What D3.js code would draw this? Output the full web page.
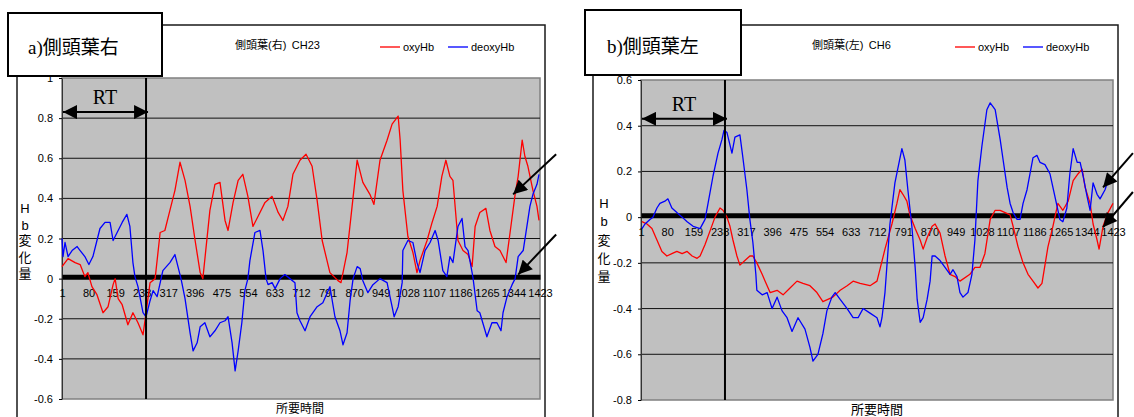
<!DOCTYPE html>
<html>
<head>
<meta charset="utf-8">
<script src="https://cdn.jsdelivr.net/npm/d3@7"></script>
<style>
body { margin: 0; background: #fff; }
svg text { font-family: "Liberation Sans", Arial, "Noto Sans CJK JP", sans-serif; fill: #000; }
</style>
</head>
<body>
<svg id="canvas" width="1134" height="417"></svg>
<script>
// category labels on the x axis (sample number)
let xTicks = [1, 80, 159, 238, 317, 396, 475, 554, 633, 712, 791, 870, 949, 1028, 1107, 1186, 1265, 1344, 1423];
let yTicksLeft = [-0.6, -0.4, -0.2, 0, 0.2, 0.4, 0.6, 0.8, 1];
let yTicksRight = [-0.8, -0.6, -0.4, -0.2, 0, 0.2, 0.4, 0.6];

// [sample, value]
let leftOxy = [[1,0.06],[19,0.10],[40,0.08],[55,0.07],[69,0.01],[78,0.03],[90,-0.04],[105,-0.08],[123,-0.17],[138,-0.14],[153,-0.03],[159,0.00],[168,-0.10],[180,-0.13],[197,-0.23],[212,-0.17],[227,-0.22],[242,-0.28],[251,-0.17],[263,-0.02],[278,0.00],[293,0.23],[307,0.24],[322,0.34],[337,0.44],[352,0.58],[367,0.49],[382,0.36],[397,0.19],[412,0.03],[420,0.00],[441,0.34],[456,0.47],[471,0.48],[486,0.29],[495,0.24],[510,0.38],[525,0.49],[539,0.52],[554,0.41],[569,0.26],[584,0.31],[605,0.38],[626,0.41],[644,0.33],[658,0.29],[673,0.36],[688,0.52],[709,0.59],[727,0.62],[745,0.56],[760,0.39],[775,0.19],[798,0.03],[822,-0.01],[831,-0.02],[849,0.13],[864,0.36],[879,0.59],[896,0.48],[917,0.42],[929,0.37],[947,0.59],[968,0.69],[983,0.77],[1001,0.81],[1007,0.69],[1015,0.44],[1030,0.21],[1045,0.13],[1057,0.03],[1066,0.09],[1087,0.19],[1102,0.28],[1117,0.36],[1131,0.51],[1143,0.59],[1155,0.51],[1164,0.49],[1179,0.19],[1194,0.14],[1209,0.12],[1221,0.06],[1230,0.26],[1244,0.33],[1262,0.35],[1274,0.24],[1289,0.16],[1304,0.14],[1322,0.08],[1334,0.23],[1349,0.42],[1358,0.51],[1370,0.69],[1378,0.61],[1387,0.56],[1402,0.44],[1414,0.36],[1420,0.29]];
let leftDeoxy = [[1,0.20],[4,0.11],[10,0.18],[19,0.11],[31,0.14],[46,0.16],[55,0.14],[69,0.11],[81,0.07],[93,0.11],[105,0.19],[114,0.25],[129,0.28],[144,0.28],[153,0.19],[165,0.23],[180,0.28],[194,0.32],[203,0.26],[212,0.08],[218,0.01],[227,-0.04],[242,-0.17],[251,-0.19],[263,-0.11],[272,-0.06],[284,-0.09],[301,0.04],[322,0.08],[337,0.12],[346,0.06],[355,0.00],[367,-0.10],[382,-0.27],[391,-0.36],[403,-0.32],[412,-0.24],[426,-0.22],[441,-0.29],[456,-0.26],[471,-0.22],[486,-0.21],[495,-0.19],[507,-0.32],[516,-0.46],[525,-0.36],[536,-0.22],[545,-0.06],[554,0.00],[560,0.09],[575,0.23],[590,0.24],[599,0.14],[608,0.00],[614,-0.03],[626,-0.02],[635,-0.05],[650,0.00],[664,0.02],[679,0.00],[694,-0.02],[700,-0.17],[709,-0.21],[724,-0.26],[739,-0.19],[760,-0.14],[777,-0.12],[798,-0.04],[813,-0.19],[828,-0.26],[837,-0.33],[849,-0.27],[858,-0.11],[867,0.00],[879,0.06],[888,0.05],[896,-0.01],[911,-0.07],[926,-0.03],[947,0.00],[968,-0.02],[983,-0.14],[989,-0.19],[1001,-0.14],[1013,-0.02],[1015,0.14],[1030,0.19],[1045,0.18],[1057,0.08],[1066,0.03],[1081,0.14],[1096,0.18],[1111,0.24],[1120,0.19],[1134,0.04],[1146,0.01],[1155,0.11],[1164,0.08],[1179,0.26],[1191,0.30],[1200,0.16],[1209,0.14],[1221,0.03],[1224,0.00],[1236,-0.16],[1244,-0.17],[1265,-0.29],[1280,-0.22],[1295,-0.22],[1307,-0.26],[1313,-0.17],[1325,-0.09],[1340,-0.03],[1349,0.00],[1358,0.11],[1373,0.14],[1384,0.26],[1393,0.36],[1402,0.42],[1414,0.47],[1420,0.52]];
let rightOxy = [[4,-0.02],[19,-0.03],[34,-0.05],[49,-0.10],[64,-0.15],[79,-0.17],[94,-0.16],[109,-0.15],[125,-0.16],[140,-0.15],[155,-0.17],[170,-0.18],[179,-0.17],[194,-0.12],[209,-0.06],[224,0.00],[239,0.04],[248,0.03],[260,0.00],[269,-0.04],[278,-0.10],[290,-0.17],[299,-0.21],[314,-0.19],[329,-0.17],[338,-0.17],[350,-0.20],[366,-0.25],[375,-0.28],[390,-0.33],[411,-0.32],[429,-0.34],[450,-0.31],[471,-0.28],[489,-0.29],[510,-0.30],[531,-0.33],[549,-0.37],[564,-0.36],[579,-0.35],[601,-0.32],[622,-0.30],[640,-0.28],[661,-0.29],[691,-0.30],[712,-0.28],[736,-0.14],[757,-0.03],[772,0.06],[781,0.12],[790,0.10],[802,0.07],[811,0.01],[827,-0.05],[842,-0.10],[851,-0.14],[863,-0.09],[878,-0.04],[887,-0.03],[902,-0.07],[917,-0.17],[932,-0.25],[947,-0.26],[962,-0.28],[992,-0.25],[1007,-0.22],[1022,-0.22],[1037,-0.16],[1053,-0.01],[1068,0.03],[1083,0.03],[1098,0.02],[1113,0.01],[1122,-0.04],[1137,-0.13],[1152,-0.20],[1167,-0.25],[1182,-0.28],[1197,-0.31],[1209,-0.29],[1227,-0.13],[1242,-0.04],[1257,0.06],[1272,0.03],[1288,0.07],[1303,0.16],[1318,0.19],[1330,0.21],[1339,0.13],[1354,0.06],[1363,-0.03],[1375,-0.10],[1381,-0.14],[1393,-0.04],[1408,0.02],[1423,0.06]];
let rightDeoxy = [[4,-0.05],[13,-0.03],[28,-0.01],[37,0.00],[49,0.04],[58,0.06],[73,0.07],[82,0.08],[94,0.04],[109,0.02],[125,0.00],[140,-0.02],[158,-0.04],[179,-0.05],[194,-0.01],[203,0.06],[218,0.18],[233,0.28],[245,0.34],[251,0.38],[260,0.37],[275,0.28],[284,0.35],[299,0.36],[308,0.26],[320,0.12],[329,-0.01],[338,-0.11],[347,-0.25],[350,-0.32],[366,-0.34],[381,-0.33],[396,-0.40],[411,-0.35],[426,-0.41],[441,-0.44],[456,-0.50],[474,-0.44],[495,-0.49],[510,-0.57],[519,-0.63],[534,-0.60],[549,-0.51],[561,-0.41],[576,-0.35],[586,-0.33],[601,-0.36],[622,-0.40],[640,-0.44],[655,-0.44],[670,-0.40],[691,-0.42],[712,-0.44],[721,-0.48],[727,-0.44],[736,-0.33],[751,-0.03],[766,0.15],[787,0.30],[796,0.25],[805,0.12],[817,-0.04],[827,-0.22],[833,-0.36],[842,-0.46],[851,-0.44],[863,-0.36],[872,-0.28],[878,-0.17],[887,-0.17],[902,-0.19],[917,-0.22],[932,-0.25],[941,-0.23],[953,-0.26],[962,-0.33],[971,-0.35],[986,-0.33],[998,-0.25],[1007,-0.10],[1016,0.16],[1028,0.31],[1043,0.47],[1053,0.50],[1068,0.47],[1083,0.34],[1092,0.25],[1104,0.13],[1113,0.06],[1122,0.02],[1134,-0.01],[1143,-0.01],[1152,0.06],[1164,0.12],[1173,0.19],[1182,0.26],[1194,0.27],[1203,0.24],[1218,0.23],[1233,0.19],[1242,0.13],[1254,0.05],[1263,-0.01],[1272,-0.02],[1284,0.04],[1293,0.19],[1303,0.30],[1315,0.24],[1324,0.24],[1333,0.18],[1345,0.09],[1354,0.03],[1363,0.15],[1375,0.10],[1384,0.08],[1399,0.12],[1408,0.16]];

// RT marker position (sample) and the height of its double arrow (value)
let rtSample = [251, 254];
let rtArrowValue = [0.83, 0.43];
// annotation arrows: [fromSample, fromValue, toSample, toValue]
let leftArrows = [[1471, 0.62, 1343, 0.42], [1471, 0.22, 1358, 0.02]];
let rightArrows = [[1483, 0.28, 1393, 0.13], [1483, 0.11, 1393, -0.044]];

let panelLabels = ['a)側頭葉右', 'b)側頭葉左'];
let panelTitles = ['側頭葉(右)\u2002CH23', '側頭葉(左)\u2002CH6'];
let seriesNames = ['oxyHb', 'deoxyHb'];
let seriesColors = ['#ff0000', '#0000ff'];
let yTitleChars = ['H', 'b', '変', '化', '量'];

let panels = [
  { frame: [17, 25, 528, 420], plot: [62, 78, 478, 321], box: [8, 13, 154, 63], labelPos: [28, 54],
    titlePos: [235, 49], legendX: 380, yTitleX: 25, yTitleY: [208, 225, 240, 257, 273],
    xTitle: [300, 413, 12], yTicks: yTicksLeft, oxy: leftOxy, deoxy: leftDeoxy, arrows: leftArrows },
  { frame: [593, 25, 525, 420], plot: [641, 80, 472, 320], box: [585, 10, 156, 65], labelPos: [607, 53],
    titlePos: [812, 49], legendX: 955, yTitleX: 604, yTitleY: [203, 221, 240, 258, 276],
    xTitle: [877, 414, 13], yTicks: yTicksRight, oxy: rightOxy, deoxy: rightDeoxy, arrows: rightArrows }
];

let svg = d3.select('#canvas');
let defs = svg.append('defs');
defs.append('marker').attr('id', 'head').attr('viewBox', '0 0 10 10')
  .attr('refX', 10).attr('refY', 5).attr('markerWidth', 7.5).attr('markerHeight', 7)
  .attr('markerUnits', 'strokeWidth').attr('orient', 'auto-start-reverse')
  .append('path').attr('d', 'M0,0L10,5L0,10Z').attr('fill', '#000');

panels.forEach((p, k) => {
  let [px, py, pw, ph] = p.plot;
  let x = d3.scaleLinear().domain([1, 1423]).range([px, px + pw]);
  let y = d3.scaleLinear().domain(d3.extent(p.yTicks)).range([py + ph, py]);

  // outer chart frame
  svg.append('rect').attr('x', p.frame[0]).attr('y', p.frame[1])
    .attr('width', p.frame[2]).attr('height', p.frame[3])
    .attr('fill', '#fff').attr('stroke', '#1a1a1a').attr('stroke-width', 1.5);

  // plot area
  svg.append('rect').attr('x', px).attr('y', py).attr('width', pw).attr('height', ph)
    .attr('fill', '#c0c0c0').attr('stroke', '#808080').attr('stroke-width', 1.5);

  // gridlines
  svg.append('g').selectAll('line')
    .data(p.yTicks.filter(t => t !== 0 && t !== y.domain()[0] && t !== y.domain()[1]))
    .enter().append('line')
    .attr('x1', px).attr('x2', px + pw)
    .attr('y1', d => y(d)).attr('y2', d => y(d))
    .attr('stroke', '#111').attr('stroke-width', 1);

  // y axis
  let yAxis = svg.append('g').attr('transform', 'translate(' + px + ',0)')
    .call(d3.axisLeft(y).tickValues(p.yTicks).tickSizeInner(3).tickSizeOuter(0)
      .tickPadding(6).tickFormat(d => String(+d.toFixed(1))));
  yAxis.select('.domain').attr('stroke', '#333');
  yAxis.selectAll('text').style('font-size', '11px').attr('fill', '#000');

  // category axis crossing at zero
  let xAxis = svg.append('g').attr('transform', 'translate(0,' + (y(0) - 2) + ')')
    .call(d3.axisBottom(x).tickValues(xTicks).tickSize(0).tickPadding(13).tickFormat(d3.format('d')));
  xAxis.select('.domain').attr('stroke', '#000').attr('stroke-width', 5);
  xAxis.selectAll('text').style('font-size', '11px').attr('fill', '#000');

  // series
  let line = d3.line().x(d => x(d[0])).y(d => y(d[1]));
  [p.oxy, p.deoxy].forEach((s, i) => {
    svg.append('path').datum(s).attr('d', line)
      .attr('fill', 'none').attr('stroke', seriesColors[i]).attr('stroke-width', 1.3)
      .attr('stroke-linejoin', 'round');
  });

  // RT line and double arrow
  svg.append('line').attr('x1', x(rtSample[k])).attr('x2', x(rtSample[k]))
    .attr('y1', py).attr('y2', py + ph).attr('stroke', '#000').attr('stroke-width', 2);
  svg.append('line').attr('x1', px + 1).attr('x2', x(rtSample[k]) + 2)
    .attr('y1', y(rtArrowValue[k])).attr('y2', y(rtArrowValue[k]))
    .attr('stroke', '#000').attr('stroke-width', 2)
    .attr('marker-start', 'url(#head)').attr('marker-end', 'url(#head)');
  svg.append('text').attr('x', (px + x(rtSample[k])) / 2 + 1).attr('y', y(rtArrowValue[k]) - 8)
    .attr('text-anchor', 'middle').style('font-family', '"Liberation Serif", "Times New Roman", serif')
    .style('font-size', '20px').text('RT');

  // annotation arrows
  p.arrows.forEach(a => {
    svg.append('line').attr('x1', x(a[0])).attr('y1', y(a[1]))
      .attr('x2', x(a[2])).attr('y2', y(a[3]))
      .attr('stroke', '#000').attr('stroke-width', 2).attr('marker-end', 'url(#head)');
  });

  // chart title and legend
  svg.append('text').attr('x', p.titlePos[0]).attr('y', p.titlePos[1])
    .style('font-size', '11px').text(panelTitles[k]);
  let legend = svg.append('g').selectAll('g').data(seriesNames).enter().append('g')
    .attr('transform', (d, i) => 'translate(' + (p.legendX + i * 68) + ',47)');
  legend.append('line').attr('x1', 0).attr('x2', 20).attr('y1', 0).attr('y2', 0)
    .attr('stroke', (d, i) => seriesColors[i]).attr('stroke-width', 2).attr('opacity', 0.65);
  legend.append('text').attr('x', 23).attr('y', 4).style('font-size', '11px').text(d => d);

  // axis titles
  svg.append('g').selectAll('text').data(yTitleChars).enter().append('text')
    .attr('x', p.yTitleX).attr('y', (d, i) => p.yTitleY[i] + 5)
    .attr('text-anchor', 'middle').style('font-size', '13px').text(d => d);
  svg.append('text').attr('x', p.xTitle[0]).attr('y', p.xTitle[1])
    .attr('text-anchor', 'middle').style('font-size', p.xTitle[2] + 'px').text('所要時間');

  // panel label box
  svg.append('rect').attr('x', p.box[0]).attr('y', p.box[1])
    .attr('width', p.box[2]).attr('height', p.box[3])
    .attr('fill', '#fff').attr('stroke', '#000').attr('stroke-width', 2);
  svg.append('text').attr('x', p.labelPos[0]).attr('y', p.labelPos[1])
    .style('font-family', '"Liberation Serif", "Times New Roman", "Noto Sans CJK JP", serif')
    .style('font-size', '19px').text(panelLabels[k]);
});
</script>
</body>
</html>
